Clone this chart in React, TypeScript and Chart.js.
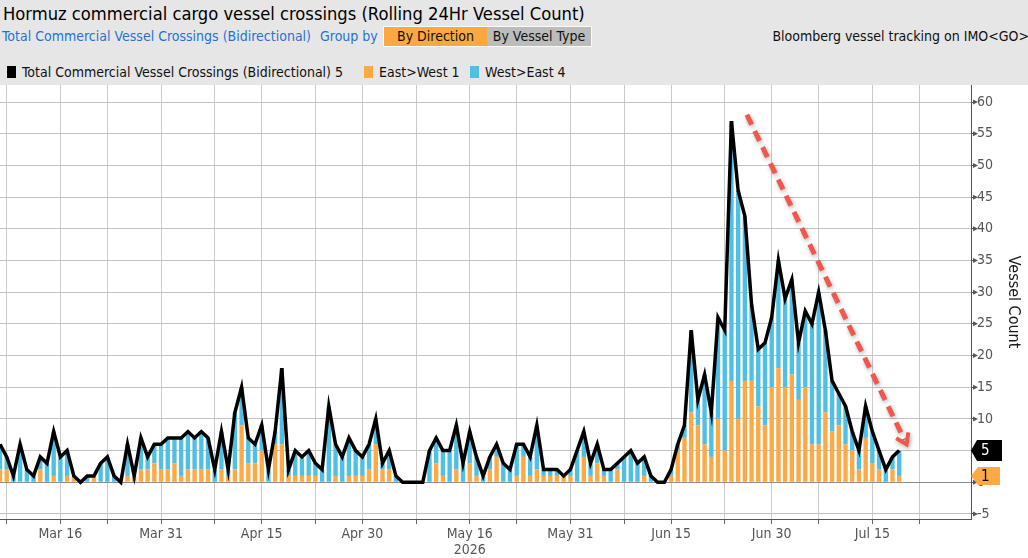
import React, { useEffect, useRef } from 'react';
import { Chart, registerables } from 'chart.js';

Chart.register(...registerables);

// ---------- data ----------
const START_DATE = '2026-03-07'; // first day in the series (day index 0)

const TOTAL = [
  6, 4, 1, 6, 2, 1, 4, 3, 8, 4,
  5, 1, 0, 1, 1, 3, 4, 1, 0, 6,
  1, 7, 4, 6, 6, 7, 7, 7, 8, 7,
  8, 7, 2, 8, 2, 11, 15, 7, 6, 9,
  2, 8, 18, 2, 5, 4, 5, 3, 2, 12,
  6, 4, 7, 5, 4, 6, 10, 3, 5, 1,
  0, 0, 0, 0, 5, 7, 5, 5, 9, 3,
  8, 4, 1, 4, 6, 3, 2, 6, 6, 4,
  9, 2, 2, 2, 1, 2, 5, 8, 3, 6,
  2, 2, 3, 4, 5, 3, 4, 1, 0, 0,
  2, 6, 9, 24, 13, 17, 11, 26, 24, 57,
  46, 42, 28, 21, 22, 26, 35, 29, 32, 22,
  27, 25, 30, 24, 16, 14, 12, 8, 5, 12,
  8, 5, 2, 4, 5,
];

const EAST_WEST = [
  2, 2, 0, 0, 0, 0, 2, 0, 1, 0,
  1, 1, 0, 0, 1, 0, 0, 0, 0, 1,
  1, 2, 2, 3, 2, 2, 3, 1, 2, 2,
  2, 2, 0, 2, 1, 2, 9, 3, 3, 5,
  0, 6, 6, 1, 1, 1, 1, 1, 0, 0,
  1, 0, 1, 1, 1, 2, 6, 2, 2, 0,
  0, 0, 0, 0, 0, 3, 1, 0, 2, 0,
  3, 1, 0, 2, 4, 0, 0, 1, 4, 1,
  2, 1, 1, 1, 1, 1, 0, 4, 1, 3,
  1, 0, 2, 0, 0, 0, 1, 0, 0, 0,
  1, 5, 7, 11, 9, 6, 4, 10, 5, 16,
  10, 16, 16, 12, 9, 15, 18, 15, 17, 13,
  15, 6, 6, 11, 8, 9, 6, 5, 2, 7,
  3, 2, 0, 2, 1,
];

const WEST_EAST = [
  4, 2, 1, 6, 2, 1, 2, 3, 7, 4,
  4, 0, 0, 1, 0, 3, 4, 1, 0, 5,
  0, 5, 2, 3, 4, 5, 4, 6, 6, 5,
  6, 5, 2, 6, 1, 9, 6, 4, 3, 4,
  2, 2, 12, 1, 4, 3, 4, 2, 2, 12,
  5, 4, 6, 4, 3, 4, 4, 1, 3, 1,
  0, 0, 0, 0, 5, 4, 4, 5, 7, 3,
  5, 3, 1, 2, 2, 3, 2, 5, 2, 3,
  7, 1, 1, 1, 0, 1, 5, 4, 2, 3,
  1, 2, 1, 4, 5, 3, 3, 1, 0, 0,
  1, 1, 2, 13, 4, 11, 7, 16, 19, 41,
  36, 26, 12, 9, 13, 11, 17, 14, 15, 9,
  12, 19, 24, 13, 8, 5, 6, 3, 3, 5,
  5, 3, 2, 2, 4,
];

const LABELED_TICKS = [
  '2026-03-16', '2026-03-31', '2026-04-15', '2026-04-30', '2026-05-16',
  '2026-05-31', '2026-06-15', '2026-06-30', '2026-07-15',
];
const TICK_LABELS = ['Mar 16', 'Mar 31', 'Apr 15', 'Apr 30', 'May 16', 'May 31', 'Jun 15', 'Jun 30', 'Jul 15'];
const YEAR_LABEL = { date: '2026-05-16', text: '2026' };
const MINOR_TICKS = [
  '2026-03-08', '2026-03-23', '2026-04-08', '2026-04-23', '2026-05-08',
  '2026-05-23', '2026-06-08', '2026-06-23', '2026-07-07', '2026-07-22',
];
const X_AXIS_END = 144.7; // days after START_DATE where the plot ends
const Y_MIN = -5.8;
const Y_MAX = 62.7;
const Y_LABEL_STEP = 5;
const Y_GRID_STEP = 2.5;

// trend annotation (data units: day index, vessel count)
const ARROW_FROM = { day: 111.3, value: 58 };
const ARROW_TO = { day: 135.1, value: 6.0 };

// ---------- styling ----------
const FONT = "'DejaVu Sans Condensed', 'Liberation Sans Narrow', 'DejaVu Sans', sans-serif";
const ORANGE = '#FDA945';
const BLUE = '#50BFE6';
const HEADER_BG = '#e6e6e6';

const dayIndex = (d: string) => Math.round((Date.parse(d) - Date.parse(START_DATE)) / 86400000);
const isMajor = (v: number) => Math.abs(v % Y_LABEL_STEP) < 1e-6;

export default function App() {
  const ref = useRef<HTMLCanvasElement>(null);

  useEffect(() => {
    document.body.style.margin = '0';
    const labeled = LABELED_TICKS.map(dayIndex);
    const minor = MINOR_TICKS.map(dayIndex);
    const allTicks = [...labeled, ...minor].sort((a, b) => a - b);
    const yearDay = dayIndex(YEAR_LABEL.date);

    const yTicks: number[] = [];
    for (let v = Math.ceil(Y_MIN / Y_GRID_STEP) * Y_GRID_STEP; v <= Y_MAX; v += Y_GRID_STEP) yTicks.push(v);

    const overlay = {
      id: 'overlay',
      afterDatasetsDraw(chart: any) {
        const { ctx } = chart;
        const xs = chart.scales.x;
        const ys = chart.scales.y;
        const x1 = xs.getPixelForValue(ARROW_FROM.day);
        const y1 = ys.getPixelForValue(ARROW_FROM.value);
        const x2 = xs.getPixelForValue(ARROW_TO.day);
        const y2 = ys.getPixelForValue(ARROW_TO.value);
        const ang = Math.atan2(y2 - y1, x2 - x1);
        ctx.save();
        ctx.strokeStyle = '#F2574C';
        ctx.lineWidth = 5;
        ctx.shadowColor = 'rgba(0,0,0,0.3)';
        ctx.shadowBlur = 4;
        ctx.shadowOffsetX = 1;
        ctx.shadowOffsetY = 2;
        ctx.setLineDash([11, 7]);
        ctx.beginPath();
        ctx.moveTo(x1, y1);
        ctx.lineTo(x2 - 5 * Math.cos(ang), y2 - 5 * Math.sin(ang));
        ctx.stroke();
        ctx.setLineDash([]);
        ctx.lineWidth = 4;
        ctx.lineJoin = 'miter';
        const L = 12;
        ctx.beginPath();
        ctx.moveTo(x2 + L * Math.cos(ang + Math.PI - 0.6), y2 + L * Math.sin(ang + Math.PI - 0.6));
        ctx.lineTo(x2, y2);
        ctx.lineTo(x2 + L * Math.cos(ang + Math.PI + 0.6), y2 + L * Math.sin(ang + Math.PI + 0.6));
        ctx.stroke();
        ctx.restore();
      },
      afterDraw(chart: any) {
        const { ctx, chartArea } = chart;
        const ys = chart.scales.y;
        // arrow-head markers on the major y ticks
        ctx.save();
        ctx.fillStyle = '#555';
        for (const v of yTicks) {
          if (!isMajor(v)) continue;
          const y = ys.getPixelForValue(v);
          const ax = chartArea.right + 1;
          ctx.beginPath();
          ctx.moveTo(ax + 1, y - 2.5);
          ctx.lineTo(ax + 6, y);
          ctx.lineTo(ax + 1, y + 2.5);
          ctx.closePath();
          ctx.fill();
        }
        ctx.restore();

        const badge = (value: number, bg: string, fg: string, h: number, tip: number, w: number) => {
          const y = ys.getPixelForValue(value);
          const x0 = chartArea.right;
          ctx.save();
          ctx.fillStyle = bg;
          ctx.beginPath();
          ctx.moveTo(x0, y);
          ctx.lineTo(x0 + tip, y - h / 2);
          ctx.lineTo(x0 + w, y - h / 2);
          ctx.lineTo(x0 + w, y + h / 2);
          ctx.lineTo(x0 + tip, y + h / 2);
          ctx.closePath();
          ctx.fill();
          ctx.fillStyle = fg;
          ctx.font = `15px ${FONT}`;
          ctx.textAlign = 'left';
          ctx.textBaseline = 'middle';
          ctx.fillText(String(value), x0 + 10, y + 1);
          ctx.restore();
        };
        badge(TOTAL[TOTAL.length - 1], '#000', '#fff', 21, 6, 31);
        badge(EAST_WEST[EAST_WEST.length - 1], ORANGE, '#000', 18, 7, 29);
      },
    };

    const chart = new Chart(ref.current as HTMLCanvasElement, {
      type: 'bar',
      data: {
        datasets: [
          {
            type: 'line',
            label: 'Total Commercial Vessel Crossings (Bidirectional)',
            data: TOTAL.map((v, i) => ({ x: i, y: v })),
            borderColor: '#000',
            borderWidth: 3.5,
            pointRadius: 0,
            tension: 0,
            fill: false,
            stack: 'total',
            order: 0,
          } as any,
          {
            type: 'bar',
            label: 'East>West',
            data: EAST_WEST.map((v, i) => ({ x: i, y: v })),
            backgroundColor: ORANGE,
            barPercentage: 0.65,
            categoryPercentage: 1,
            stack: 'dir',
            order: 1,
          },
          {
            type: 'bar',
            label: 'West>East',
            data: WEST_EAST.map((v, i) => ({ x: i, y: v })),
            backgroundColor: BLUE,
            barPercentage: 0.65,
            categoryPercentage: 1,
            stack: 'dir',
            order: 1,
          },
        ],
      },
      options: {
        responsive: false,
        maintainAspectRatio: false,
        animation: false,
        layout: { padding: 0 },
        plugins: { legend: { display: false }, tooltip: { enabled: false }, title: { display: false } },
        scales: {
          x: {
            type: 'linear',
            min: 0,
            max: X_AXIS_END,
            offset: false,
            stacked: true,
            afterBuildTicks: (s: any) => {
              s.ticks = allTicks.map((v) => ({ value: v }));
            },
            afterFit: (s: any) => {
              s.height = 39;
              s.paddingLeft = 0;
              s.paddingRight = 0;
            },
            grid: {
              offset: false,
              color: '#cbcbcb',
              lineWidth: 1,
              drawTicks: true,
              tickLength: 5,
              tickColor: '#666',
            },
            border: { display: true, color: '#555', width: 1 },
            ticks: {
              autoSkip: false,
              maxRotation: 0,
              minRotation: 0,
              padding: 2,
              color: '#555',
              font: { family: FONT, size: 14, lineHeight: 1.15 },
              callback: (v: any) => {
                const k = labeled.indexOf(Number(v));
                if (k < 0) return '';
                if (Number(v) === yearDay) return [TICK_LABELS[k], YEAR_LABEL.text];
                return TICK_LABELS[k];
              },
            },
          } as any,
          y: {
            type: 'linear',
            position: 'right',
            min: Y_MIN,
            max: Y_MAX,
            stacked: true,
            afterBuildTicks: (s: any) => {
              s.ticks = yTicks.map((v) => ({ value: v }));
            },
            afterFit: (s: any) => {
              s.width = 57;
              s.paddingTop = 0;
              s.paddingBottom = 0;
            },
            grid: {
              color: (c: any) => {
                const v = c.tick ? c.tick.value : 0;
                if (Math.abs(v) < 1e-6) return '#8c8c8c';
                return isMajor(v) ? '#c2c2c2' : '#dcdcdc';
              },
              lineWidth: 1,
              drawTicks: true,
              tickLength: 5,
              tickColor: '#555',
            },
            border: { display: true, color: '#555', width: 1 },
            ticks: {
              padding: 1,
              color: '#555',
              font: { family: FONT, size: 14 },
              callback: (v: any) => (isMajor(Number(v)) ? String(v) : ''),
            },
            title: {
              display: true,
              text: 'Vessel Count',
              color: '#1a1a1a',
              font: { family: FONT, size: 16 },
              padding: { top: 5, bottom: 0 },
            },
          } as any,
        },
      },
      plugins: [overlay],
    });
    return () => chart.destroy();
  }, []);

  const legendItem = (left: number, color: string, text: string) => (
    <div style={{ position: 'absolute', left, top: 63, height: 18, display: 'flex', alignItems: 'center', whiteSpace: 'nowrap' }}>
      <span style={{ display: 'inline-block', width: 9, height: 12, background: color, marginRight: 6 }} />
      <span style={{ fontSize: 14, color: '#111' }}>{text}</span>
    </div>
  );

  return (
    <div style={{ position: 'relative', width: 1028, height: 558, background: '#fff', overflow: 'hidden', fontFamily: FONT }}>
      <div style={{ position: 'absolute', left: 0, top: 0, width: 1028, height: 85, background: HEADER_BG, overflow: 'hidden' }}>
        <div style={{ position: 'absolute', left: 3, top: 3, fontSize: 18.2, color: '#000', whiteSpace: 'nowrap' }}>
          Hormuz commercial cargo vessel crossings (Rolling 24Hr Vessel Count)
        </div>
        <div style={{ position: 'absolute', left: 2, top: 28, fontSize: 14, color: '#1f72d6', whiteSpace: 'nowrap' }}>
          Total Commercial Vessel Crossings (Bidirectional)
        </div>
        <div style={{ position: 'absolute', left: 320, top: 28, fontSize: 14, color: '#1f72d6', whiteSpace: 'nowrap' }}>Group by</div>
        <div style={{ position: 'absolute', left: 383, top: 26, display: 'flex', border: '1px solid #fafafa' }}>
          <div style={{ width: 103, height: 19, background: '#FAA83F', fontSize: 14, color: '#111', textAlign: 'center', lineHeight: '19px' }}>By Direction</div>
          <div style={{ width: 104, height: 19, background: '#bcbcbc', fontSize: 14, color: '#111', textAlign: 'center', lineHeight: '19px' }}>By Vessel Type</div>
        </div>
        <div style={{ position: 'absolute', right: -1, top: 28, fontSize: 14, color: '#111', whiteSpace: 'nowrap' }}>
          Bloomberg vessel tracking on IMO&lt;GO&gt;
        </div>
        {legendItem(7, '#000', `Total Commercial Vessel Crossings (Bidirectional) ${TOTAL[TOTAL.length - 1]}`)}
        {legendItem(364, ORANGE, `East>West ${EAST_WEST[EAST_WEST.length - 1]}`)}
        {legendItem(470, BLUE, `West>East ${WEST_EAST[WEST_EAST.length - 1]}`)}
      </div>
      <div style={{ position: 'absolute', left: 0, top: 85, width: 1028, height: 473 }}>
        <canvas ref={ref} width={1028} height={473} style={{ display: 'block', width: 1028, height: 473 }} />
      </div>
    </div>
  );
}
